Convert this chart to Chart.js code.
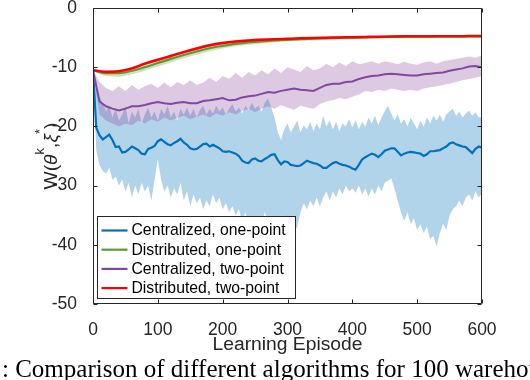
<!DOCTYPE html>
<html>
<head>
<meta charset="utf-8">
<script src="https://cdn.jsdelivr.net/npm/chart.js@4.4.1/dist/chart.umd.min.js"></script>
<style>
  html, body { margin: 0; padding: 0; background: #fff; }
  #wrap { position: relative; width: 530px; height: 380px; overflow: hidden; }
  #myChart { display: block; }
  #caption {
    position: absolute; left: 2px; top: 356px;
    font: 25px 'Liberation Serif', 'Times New Roman', serif;
    line-height: 25px; white-space: nowrap; color: #000;
  }
</style>
</head>
<body>
<div id="wrap">
  <canvas id="myChart" width="530" height="380"></canvas>
  <div id="caption">: Comparison of different algorithms for 100 warehouses</div>
</div>
<script>
// tick labels
const xTicks = [0, 100, 200, 300, 400, 500, 600];
const yTicks = [-50, -40, -30, -20, -10, 0];

const seriesLabels = ['Centralized, one-point', 'Distributed, one-point', 'Centralized, two-point', 'Distributed, two-point'];

// sample grids (learning episode)
function grid(step) {
  const out = [];
  for (let e = 0; e <= 600; e += step) out.push(e);
  return out;
}
const ep5 = grid(5);
const ep10 = grid(10);
const ep20 = grid(20);

// Centralized, one-point (every 5 episodes)
const blueMean = [
  -10.5, -20.2, -21.5, -22.2, -21.8, -21.4, -22.3, -23.5, -23.4, -24.4,
  -24.3, -23.9, -23.4, -23.7, -24.0, -24.6, -24.7, -23.8, -23.6, -23.3,
  -22.5, -22.2, -22.6, -23.0, -23.2, -22.8, -22.5, -22.1, -22.7, -23.1,
  -23.7, -23.9, -23.8, -23.4, -23.0, -22.9, -23.4, -23.1, -23.4, -23.7,
  -24.2, -24.3, -24.2, -24.4, -24.6, -25.0, -25.8, -26.1, -26.2, -25.6,
  -25.4, -25.8, -25.9, -25.5, -25.2, -24.8, -24.7, -25.7, -26.4, -25.9,
  -26.0, -26.5, -26.6, -26.7, -26.6, -26.2, -25.8, -26.0, -26.2, -26.3,
  -26.6, -27.0, -27.0, -26.6, -26.2, -26.0, -26.3, -26.5, -26.6, -26.8,
  -27.1, -27.3, -26.5, -25.6, -25.2, -24.9, -24.6, -24.8, -25.2, -24.7,
  -24.1, -23.9, -23.7, -23.7, -24.3, -24.9, -24.6, -24.4, -24.3, -24.4,
  -24.5, -24.6, -25.0, -24.7, -24.2, -24.2, -24.1, -24.0, -23.7, -23.4,
  -22.9, -22.7, -23.0, -23.2, -23.4, -23.5, -24.0, -24.5, -23.8, -23.4,
  -23.6
];
const blueUpper = [
  -10.5, -13.5, -15.0, -16.0, -17.5, -16.5, -18.5, -17.0, -19.0, -18.0,
  -16.5, -19.5, -17.5, -18.5, -17.0, -19.5, -18.0, -16.8, -18.5, -17.5,
  -19.0, -17.0, -18.0, -16.5, -18.5, -17.5, -19.0, -17.0, -18.0, -16.8,
  -18.2, -17.0, -18.5, -17.2, -16.5, -18.0, -17.0, -17.8, -16.5, -17.5,
  -16.8, -18.0, -17.0, -16.2, -17.5, -16.8, -17.8, -16.5, -17.2, -16.0,
  -17.0, -16.5, -17.5, -16.0, -15.3, -16.8, -18.5, -21.0, -22.3, -20.5,
  -19.5, -21.0, -20.0, -19.0, -21.0, -19.8, -20.5, -19.2, -20.8, -19.5,
  -20.5, -18.2, -20.0, -19.0, -20.5, -19.2, -20.8, -19.5, -20.0, -18.8,
  -20.2, -19.0, -20.5, -19.2, -20.0, -18.5, -19.5, -18.2, -19.8, -18.5,
  -17.5, -16.5, -17.8, -19.0, -18.0, -19.5, -18.8, -20.0, -18.5, -19.5,
  -20.5, -19.0, -20.0, -18.5, -19.5, -18.2, -19.0, -18.0, -19.2, -18.0,
  -17.5, -17.0, -18.2, -17.5, -18.5, -17.8, -17.3, -18.2, -17.6, -18.5,
  -18.4
];
const blueLower = [
  -10.5, -24.0, -26.5, -27.5, -28.0, -27.0, -29.0, -28.5, -30.0, -29.0,
  -31.0, -29.5, -32.0, -30.0, -31.5, -29.5, -31.0, -30.0, -32.5, -29.0,
  -25.5, -29.0, -31.0, -30.0, -32.0, -30.5, -31.5, -29.5, -32.5, -31.0,
  -33.5, -31.5, -33.0, -32.0, -34.0, -32.5, -33.5, -31.5, -33.0, -32.0,
  -34.0, -33.0, -34.5, -33.5, -35.0, -34.0, -36.0, -34.5, -36.5, -35.5,
  -37.0, -35.0, -36.5, -34.5, -36.0, -35.0, -37.5, -36.0, -35.0, -36.5,
  -35.5, -36.0, -37.5, -37.0, -34.5, -33.0, -34.0, -32.5, -33.5, -32.0,
  -33.5, -32.0, -31.0, -32.5, -31.0, -32.0, -30.5, -31.5, -30.0, -31.0,
  -30.5, -31.2, -30.0, -31.5, -30.5, -31.8, -30.5, -31.5, -30.0, -31.0,
  -29.5, -29.2, -28.8, -30.5, -32.5, -34.5, -36.0, -34.5, -36.5, -35.5,
  -37.5, -36.5, -38.0, -37.0, -39.0, -38.5, -40.3, -38.0, -36.5, -37.5,
  -35.0, -34.0, -33.5, -32.5, -33.5, -32.0, -31.5, -32.5, -31.0, -32.0,
  -31.3
];

// Centralized, two-point (every 10 episodes)
const purpleMean = [
  -10.5, -15.8, -16.6, -17.0, -17.3, -17.0, -16.6, -16.6, -16.4, -16.1,
  -15.9, -16.1, -16.2, -16.0, -15.9, -16.1, -16.1, -15.7, -15.6, -15.4,
  -15.2, -15.6, -15.5, -15.1, -14.9, -14.8, -14.5, -14.2, -14.3, -14.0,
  -13.8, -13.6, -13.8, -13.9, -14.0, -13.5, -13.0, -12.8, -12.8, -12.5,
  -12.4, -12.0, -11.7, -11.5, -11.4, -11.2, -11.1, -11.2, -11.3, -11.4,
  -11.4, -11.2, -11.1, -11.0, -10.9, -10.6, -10.4, -10.2, -9.9, -9.8,
  -10.0
];
const purpleUpper = [
  -10.5, -12.5, -13.5, -14.0, -13.2, -14.0, -13.0, -13.8, -13.2, -12.8,
  -13.5, -12.6, -13.4, -12.5, -13.0, -12.2, -13.0, -12.6, -11.8, -12.5,
  -11.5, -12.0, -11.0, -11.8, -10.8, -11.4, -10.5, -11.2, -10.2, -11.0,
  -10.0, -10.4, -10.8, -9.8, -10.5, -10.2, -9.4, -10.0, -9.2, -9.8,
  -9.0, -9.5, -9.3, -9.0, -9.4, -9.0, -9.2, -9.5, -9.1, -9.4,
  -9.6, -9.2, -9.0, -9.4, -9.0, -8.8, -8.6, -8.4, -8.2, -8.4,
  -8.0
];
const purpleLower = [
  -10.5, -18.0, -19.0, -19.5, -20.0, -19.5, -19.8, -19.0, -19.5, -18.8,
  -19.2, -18.5, -19.0, -18.6, -18.2, -18.8, -18.4, -18.0, -18.5, -17.8,
  -18.2, -17.6, -18.0, -17.4, -17.0, -17.6, -17.0, -16.6, -17.0, -16.4,
  -16.8, -17.2, -16.5, -16.8, -17.0, -16.2, -15.8, -15.6, -15.2, -15.4,
  -15.0, -14.6, -14.0, -14.2, -13.8, -14.0, -13.6, -13.8, -14.0, -13.8,
  -14.0, -13.6, -13.4, -13.2, -13.0, -12.8, -12.5, -12.2, -12.0, -11.8,
  -11.5
];

// Distributed, one-point (every 20 episodes)
const greenMean = [
  -10.5, -11.0, -11.0, -10.6, -10.0, -9.3, -8.6, -7.95, -7.35, -6.8,
  -6.4, -6.05, -5.82, -5.63, -5.48, -5.37, -5.27, -5.18, -5.12, -5.06,
  -5.01, -4.96, -4.92, -4.89, -4.86, -4.84, -4.82, -4.81, -4.8, -4.79,
  -4.78
];
const greenUpper = [
  -10.3, -10.5, -10.5, -10.1, -9.5, -8.8, -8.1, -7.45, -6.85, -6.35,
  -5.98, -5.68, -5.47, -5.3, -5.18, -5.08, -5.0, -4.93, -4.88, -4.84,
  -4.8, -4.77, -4.74, -4.72, -4.7, -4.69, -4.68, -4.67, -4.66, -4.65,
  -4.64
];
const greenLower = [
  -10.7, -11.5, -11.6, -11.2, -10.6, -9.9, -9.2, -8.5, -7.9, -7.3,
  -6.85, -6.45, -6.2, -5.98, -5.8, -5.67, -5.55, -5.45, -5.36, -5.29,
  -5.23, -5.17, -5.12, -5.08, -5.04, -5.01, -4.98, -4.96, -4.94, -4.93,
  -4.92
];

// Distributed, two-point (every 20 episodes)
const redMean = [
  -10.5, -10.8, -10.7, -10.2, -9.4, -8.75, -8.1, -7.45, -6.85, -6.3,
  -5.9, -5.65, -5.48, -5.36, -5.27, -5.2, -5.13, -5.07, -5.02, -4.97,
  -4.92, -4.88, -4.84, -4.81, -4.79, -4.78, -4.77, -4.76, -4.76, -4.75,
  -4.75
];
const redUpper = [
  -10.3, -10.55, -10.45, -9.95, -9.15, -8.5, -7.85, -7.2, -6.6, -6.05,
  -5.67, -5.43, -5.27, -5.16, -5.08, -5.02, -4.96, -4.91, -4.86, -4.82,
  -4.78, -4.74, -4.71, -4.68, -4.66, -4.65, -4.64, -4.63, -4.63, -4.62,
  -4.62
];
const redLower = [
  -10.7, -11.05, -10.95, -10.45, -9.65, -9.0, -8.35, -7.7, -7.1, -6.55,
  -6.13, -5.87, -5.69, -5.56, -5.46, -5.38, -5.3, -5.23, -5.18, -5.12,
  -5.06, -5.02, -4.97, -4.94, -4.92, -4.91, -4.9, -4.89, -4.89, -4.88,
  -4.88
];

const lineColors = ['#0072BD', '#5a9a3c', '#8048a0', '#ff0000'];
const bandColors = ['rgba(0,114,189,0.3)', 'rgba(119,172,48,0.35)', 'rgba(126,47,142,0.26)', 'rgba(255,0,0,0.3)'];
const sans = "'Liberation Sans', Arial, Helvetica, sans-serif";
const axisColor = '#262626';

function pts(xs, ys) {
  return xs.map((x, i) => ({ x: x, y: ys[i] }));
}

function meanLine(label, xs, ys, color, width, order, smooth) {
  return {
    label: label, data: pts(xs, ys), borderColor: color, borderWidth: width,
    pointRadius: 0, fill: false, order: order,
    cubicInterpolationMode: smooth ? 'monotone' : 'default', tension: 0
  };
}
function bandEdge(xs, ys, color, order, fillIt, smooth) {
  return {
    label: '', data: pts(xs, ys), borderColor: 'rgba(0,0,0,0)', borderWidth: 0,
    backgroundColor: color, pointRadius: 0, fill: fillIt ? '+1' : false, order: order,
    cubicInterpolationMode: smooth ? 'monotone' : 'default', tension: 0
  };
}

const datasets = [
  meanLine(seriesLabels[3], ep20, redMean, lineColors[3], 2.5, 0, true),
  meanLine(seriesLabels[2], ep10, purpleMean, lineColors[2], 2, 1, false),
  meanLine(seriesLabels[1], ep20, greenMean, lineColors[1], 2.2, 2, true),
  meanLine(seriesLabels[0], ep5, blueMean, lineColors[0], 2.2, 3, false),
  bandEdge(ep20, redUpper, bandColors[3], 4, true, true),
  bandEdge(ep20, redLower, bandColors[3], 5, false, true),
  bandEdge(ep20, greenUpper, bandColors[1], 6, true, true),
  bandEdge(ep20, greenLower, bandColors[1], 7, false, true),
  bandEdge(ep10, purpleUpper, bandColors[2], 8, true, false),
  bandEdge(ep10, purpleLower, bandColors[2], 9, false, false),
  bandEdge(ep5, blueUpper, bandColors[0], 10, true, false),
  bandEdge(ep5, blueLower, bandColors[0], 11, false, false)
];

// matlab style box with inward ticks, titles and legend
const matlabAxes = {
  id: 'matlabAxes',
  afterDatasetsDraw(chart) {
    const { ctx, chartArea: a, scales } = chart;
    const L = Math.round(a.left) + 0.5, R = Math.round(a.right) - 0.5;
    const T = Math.round(a.top) + 0.5, B = Math.round(a.bottom) - 0.5;
    ctx.save();
    ctx.strokeStyle = axisColor;
    ctx.lineWidth = 1;
    ctx.beginPath();
    ctx.rect(L, T, R - L, B - T);
    xTicks.forEach(v => {
      const px = Math.round(scales.x.getPixelForValue(v)) + 0.5;
      ctx.moveTo(px, B); ctx.lineTo(px, B - 4);
      ctx.moveTo(px, T); ctx.lineTo(px, T + 4);
    });
    yTicks.forEach(v => {
      const py = Math.round(scales.y.getPixelForValue(v)) + 0.5;
      ctx.moveTo(L, py); ctx.lineTo(L + 4, py);
      ctx.moveTo(R, py); ctx.lineTo(R - 4, py);
    });
    ctx.stroke();
    ctx.restore();
  },
  afterDraw(chart) {
    const { ctx, chartArea: a } = chart;
    ctx.save();
    ctx.fillStyle = axisColor;

    // x title
    ctx.font = '19.25px ' + sans;
    ctx.textAlign = 'center';
    ctx.textBaseline = 'middle';
    ctx.fillText('Learning Episode', (a.left + a.right) / 2, 345);

    // y title with superscripts
    const big = 19.25, small = 13;
    const parts = [
      { t: 'W(', f: big + 'px ' + sans, up: 0 },
      { t: 'θ', f: 'italic ' + big + 'px ' + sans, up: 0 },
      { t: 'k', f: small + 'px ' + sans, up: 13 },
      { t: ',', f: big + 'px ' + sans, up: 0 },
      { t: 'ξ', f: 'italic ' + big + 'px ' + sans, up: 0 },
      { t: '*', f: small + 'px ' + sans, up: 13 },
      { t: ')', f: big + 'px ' + sans, up: 0 }
    ];
    let total = 0;
    parts.forEach(p => { ctx.font = p.f; p.w = ctx.measureText(p.t).width; total += p.w; });
    ctx.translate(57, (a.top + a.bottom) / 2);
    ctx.rotate(-Math.PI / 2);
    ctx.textAlign = 'left';
    ctx.textBaseline = 'alphabetic';
    let cx = -total / 2;
    parts.forEach(p => { ctx.font = p.f; ctx.fillText(p.t, cx, -p.up); cx += p.w; });
    ctx.setTransform(1, 0, 0, 1, 0, 0);

    // legend
    const bx = Math.round(a.left) + 4.5, by = Math.round(a.bottom) - 87.5;
    const bw = 198, bh = 82;
    ctx.fillStyle = '#fff';
    ctx.fillRect(bx, by, bw, bh);
    ctx.strokeStyle = axisColor;
    ctx.lineWidth = 1;
    ctx.strokeRect(bx, by, bw, bh);
    ctx.font = '15.75px ' + sans;
    ctx.textAlign = 'left';
    ctx.textBaseline = 'middle';
    seriesLabels.forEach((lab, i) => {
      const ry = by + 14 + i * 19.2;
      ctx.strokeStyle = lineColors[i];
      ctx.lineWidth = 2.2;
      ctx.beginPath();
      ctx.moveTo(bx + 4, ry); ctx.lineTo(bx + 30, ry);
      ctx.stroke();
      ctx.fillStyle = '#000';
      ctx.fillText(lab, bx + 34, ry + 0.5);
    });
    ctx.restore();
  }
};

const ctx = document.getElementById('myChart');
const myChart = new Chart(ctx, {
  type: 'line',
  data: { datasets: datasets },
  options: {
    responsive: false,
    animation: false,
    devicePixelRatio: 1,
    layout: { padding: { top: 8, right: 48, bottom: 0, left: 0 } },
    plugins: { legend: { display: false }, tooltip: { enabled: false } },
    scales: {
      x: {
        type: 'linear', min: 0, max: 600,
        afterBuildTicks: s => { s.ticks = xTicks.map(v => ({ value: v })); },
        afterFit: s => { s.height = 76; s.paddingLeft = 0; s.paddingRight = 0; },
        ticks: { color: axisColor, font: { family: sans, size: 17.5 }, padding: 8, maxRotation: 0 },
        grid: { display: false },
        border: { display: false }
      },
      y: {
        type: 'linear', min: -50, max: 0,
        afterBuildTicks: s => { s.ticks = yTicks.map(v => ({ value: v })); },
        afterFit: s => { s.width = 93; s.paddingTop = 0; s.paddingBottom = 0; },
        ticks: { color: axisColor, font: { family: sans, size: 17.5 }, padding: 8 },
        grid: { display: false },
        border: { display: false }
      }
    }
  },
  plugins: [matlabAxes]
});
</script>
</body>
</html>
